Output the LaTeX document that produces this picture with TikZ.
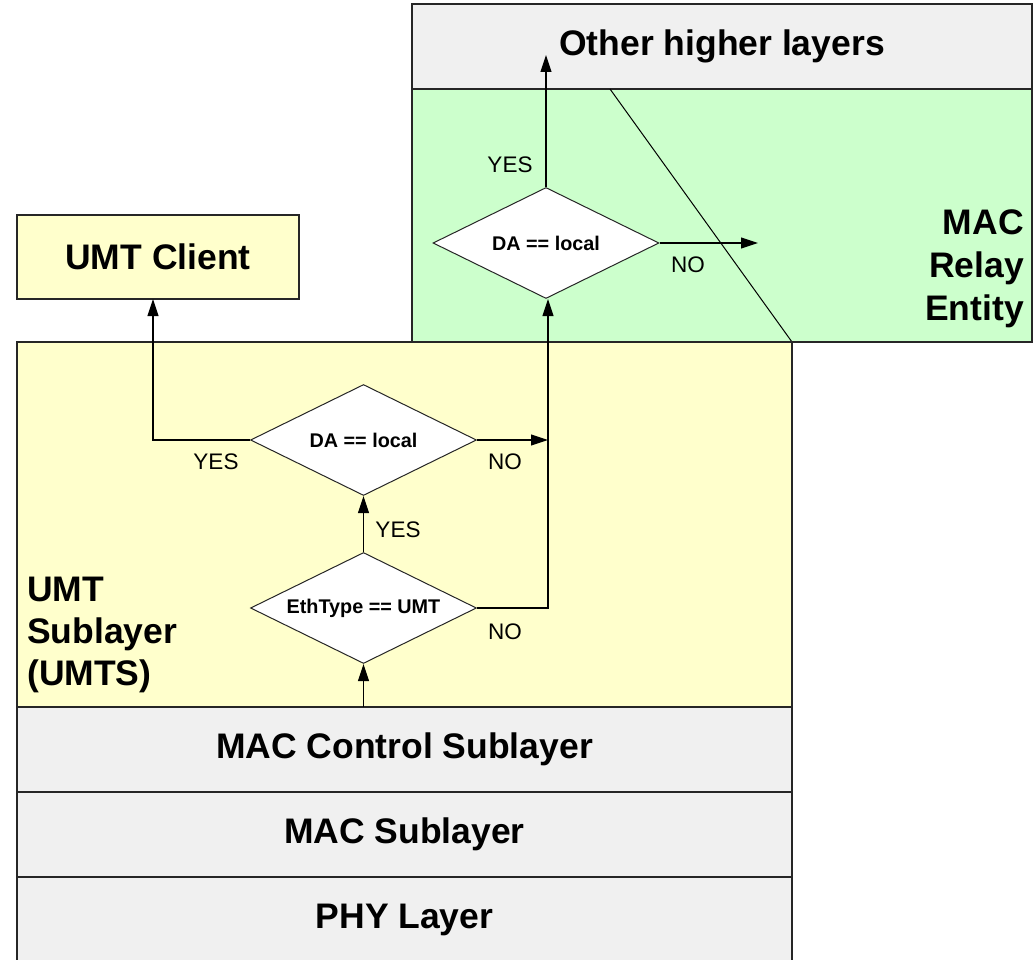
\documentclass[tikz,border=0pt]{standalone}
\usepackage{fontspec}
\setmainfont{Liberation Sans}
\usetikzlibrary{shapes.geometric,arrows.meta}
\definecolor{layergray}{HTML}{F0F0F0}
\definecolor{relaygreen}{HTML}{CCFFCC}
\definecolor{umtyellow}{HTML}{FFFFCC}
\begin{document}
\begin{tikzpicture}[x=1pt,y=-1pt,
  box/.style={draw=black!85, line width=1.3pt, inner sep=0pt, outer sep=0pt, anchor=north west},
  bigtxt/.style={font=\fontsize{35.5}{42}\selectfont\bfseries},
  dec/.style={diamond, draw=black!85, fill=white, line width=1pt, inner sep=0pt, aspect=2.04,
              minimum width=226pt, minimum height=111pt, font=\fontsize{19.8}{22}\selectfont\bfseries},
  lbl/.style={font=\fontsize{22.5}{24}\selectfont, inner sep=0pt},
  arr/.style={line width=1.1pt, -{Triangle[length=17pt,width=11pt]}},
  seg/.style={line width=1.1pt}]
\useasboundingbox (0,0) rectangle (1036,960);
% relay entity and higher layers
\node[box, fill=relaygreen, minimum width=620pt, minimum height=253pt] (relay) at (412,89) {};
\node[box, fill=layergray, minimum width=620pt, minimum height=85pt, bigtxt] (higher) at (412,4) {Other higher layers};
\coordinate (d1) at (610,89);
\coordinate (d2) at (792,342);
\draw[line width=1pt] (d1) -- (d2);
\node[align=right, anchor=east, inner sep=0pt, font=\fontsize{35.5}{43}\selectfont\bfseries] (relaytxt) at (1024,269) {MAC\\Relay\\Entity};
% UMT client
\node[box, fill=umtyellow, minimum width=282pt, minimum height=84pt, bigtxt] (client) at (17,215) {UMT Client};
% UMT sublayer
\node[box, fill=umtyellow, line width=2.8pt, minimum width=775pt, minimum height=365pt] (umts) at (17,342) {};
\node[bigtxt, align=left, anchor=west, inner sep=0pt] (umtstxt) at (27,635) {UMT\\Sublayer\\(UMTS)};
% lower layers
\node[box, fill=layergray, minimum width=775pt, minimum height=85pt, bigtxt] (macctl) at (17,707) {MAC Control Sublayer};
\node[box, fill=layergray, minimum width=775pt, minimum height=85pt, bigtxt] (mac) at (17,792) {MAC Sublayer};
\node[box, fill=layergray, minimum width=775pt, minimum height=85pt, bigtxt] (phy) at (17,877) {PHY Layer};
% decisions
\node[dec] (eth) at (363.5,608) {EthType == UMT};
\node[dec] (da1) at (363.5,440) {DA == local};
\node[dec] (da2) at (546,243) {DA == local};
% connectors
\coordinate (in) at (363.5,707);
\coordinate (j) at (548,440);
\coordinate (cl) at (153,299);
\coordinate (up) at (546,55);
\coordinate (out) at (758,243);
\draw[arr] (in) -- (eth.south);
\draw[arr] (eth.north) -- (da1.south);
\draw[arr] (da1.west) -| (cl);
\draw[arr] (da1.east) -- (j);
\draw[arr] (eth.east) -| (da2.south -| j);
\draw[arr] (da2.north) -- (up);
\draw[arr] (da2.east) -- (out);
% labels
\node[lbl] (y1) at (216,462) {YES};
\node[lbl] (n1) at (505,462) {NO};
\node[lbl] (y2) at (398,530) {YES};
\node[lbl] (n2) at (505,632) {NO};
\node[lbl] (y3) at (510,165) {YES};
\node[lbl] (n3) at (688,265) {NO};
\end{tikzpicture}
\end{document}
